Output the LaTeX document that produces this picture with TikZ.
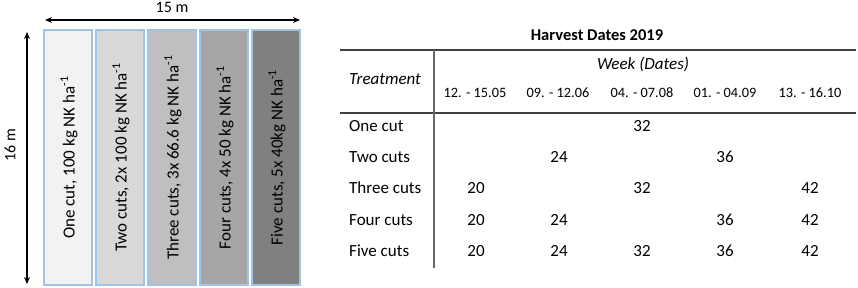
\documentclass[tikz,border=0pt]{standalone}
\usepackage{fontspec}
\setmainfont{Carlito}
\usetikzlibrary{arrows.meta}

\begin{document}
\begin{tikzpicture}[x=1pt, y=-1pt,
  dimarrow/.style={{Stealth[length=7pt,width=6pt]}-{Stealth[length=7pt,width=6pt]},
                   line width=1.3pt},
  plotstrip/.style={draw=stripblue, line width=1.1pt},
  striplabel/.style={rotate=90, inner sep=0pt, font=\fontsize{17}{17}\selectfont},
  dimlabel/.style={inner sep=0pt, font=\fontsize{16}{16}\selectfont},
  rowlabel/.style={anchor=mid west, inner sep=0pt, font=\fontsize{17}{17}\selectfont},
  cell/.style={anchor=mid, inner sep=0pt, font=\fontsize{17}{17}\selectfont},
  datehead/.style={anchor=mid, inner sep=0pt, font=\fontsize{14.3}{14.3}\selectfont},
  tablerule/.style={draw=black!75, line width=1.3pt}]

\definecolor{stripblue}{HTML}{9DC3E6}
\colorlet{cutone}{black!5}
\colorlet{cuttwo}{black!15}
\colorlet{cutthree}{black!25}
\colorlet{cutfour}{black!35}
\colorlet{cutfive}{black!50}

\useasboundingbox (0,0) rectangle (858,288);

% ---- (1) field plot: five strips ---------------------------------
\foreach \i/\clr/\txt in {%
    0/cutone/{One cut, 100 kg NK ha\textsuperscript{-1}},
    1/cuttwo/{Two cuts, 2x 100 kg NK ha\textsuperscript{-1}},
    2/cutthree/{Three cuts, 3x 66.6 kg NK ha\textsuperscript{-1}},
    3/cutfour/{Four cuts, 4x 50 kg NK ha\textsuperscript{-1}},
    4/cutfive/{Five cuts, 5x 40kg NK ha\textsuperscript{-1}}}{%
  \pgfmathsetmacro{\xl}{44+52*\i}
  \filldraw[plotstrip, fill=\clr] (\xl,30) rectangle ++(48,255);
  \node[striplabel] (strip\i) at ({\xl+25},157.5) {\txt};
}

% ---- (2) dimension arrows ----------------------------------------
\coordinate (wleft)  at (45,20);
\coordinate (wright) at (300,20);
\coordinate (htop)   at (27,32);
\coordinate (hbot)   at (27,284);
\draw[dimarrow] (wleft) -- (wright);
\draw[dimarrow] (htop) -- (hbot);
\node[dimlabel] (width)  at (172,7) {15 m};
\node[dimlabel, rotate=90] (height) at (10,145) {16 m};

% ---- (3) harvest table: title, rules, headers --------------------
\node[inner sep=0pt, font=\fontsize{16.5}{16.5}\selectfont\bfseries]
      (title) at (597,35) {Harvest Dates 2019};
\draw[tablerule] (340,50) -- (856,50);
\draw[tablerule] (340,113) -- (856,113);
\draw[draw=black!60, line width=1.1pt] (434,50) -- (434,268);

\node[rowlabel, font=\fontsize{17}{17}\selectfont\itshape]
      (treat) at (349,82) {Treatment};
\node[cell, font=\fontsize{17}{17}\selectfont\itshape]
      (week) at (643,67) {Week (Dates)};

\foreach \c/\x/\d in {1/475/12. - 15.05, 2/558/09. - 12.06, 3/642/04. - 07.08,
                      4/725/01. - 04.09, 5/810/13. - 16.10}{%
  \node[datehead] (date\c) at (\x,95) {\d};
}

% ---- (4) table body ----------------------------------------------
\foreach \r/\y/\lbl in {1/129/One cut, 2/160/Two cuts, 3/191/Three cuts,
                        4/223/Four cuts, 5/254/Five cuts}{%
  \node[rowlabel] (row\r) at (349,\y) {\lbl};
}

\node[cell] (c13) at (642,129) {32};

\node[cell] (c22) at (559,160) {24};
\node[cell] (c24) at (725,160) {36};

\node[cell] (c31) at (476,191) {20};
\node[cell] (c33) at (642,191) {32};
\node[cell] (c35) at (810,191) {42};

\node[cell] (c41) at (476,223) {20};
\node[cell] (c42) at (559,223) {24};
\node[cell] (c44) at (725,223) {36};
\node[cell] (c45) at (810,223) {42};

\foreach \c/\x/\v in {1/476/20, 2/559/24, 3/642/32, 4/725/36, 5/810/42}{%
  \node[cell] (c5\c) at (\x,254) {\v};
}

\end{tikzpicture}
\end{document}
